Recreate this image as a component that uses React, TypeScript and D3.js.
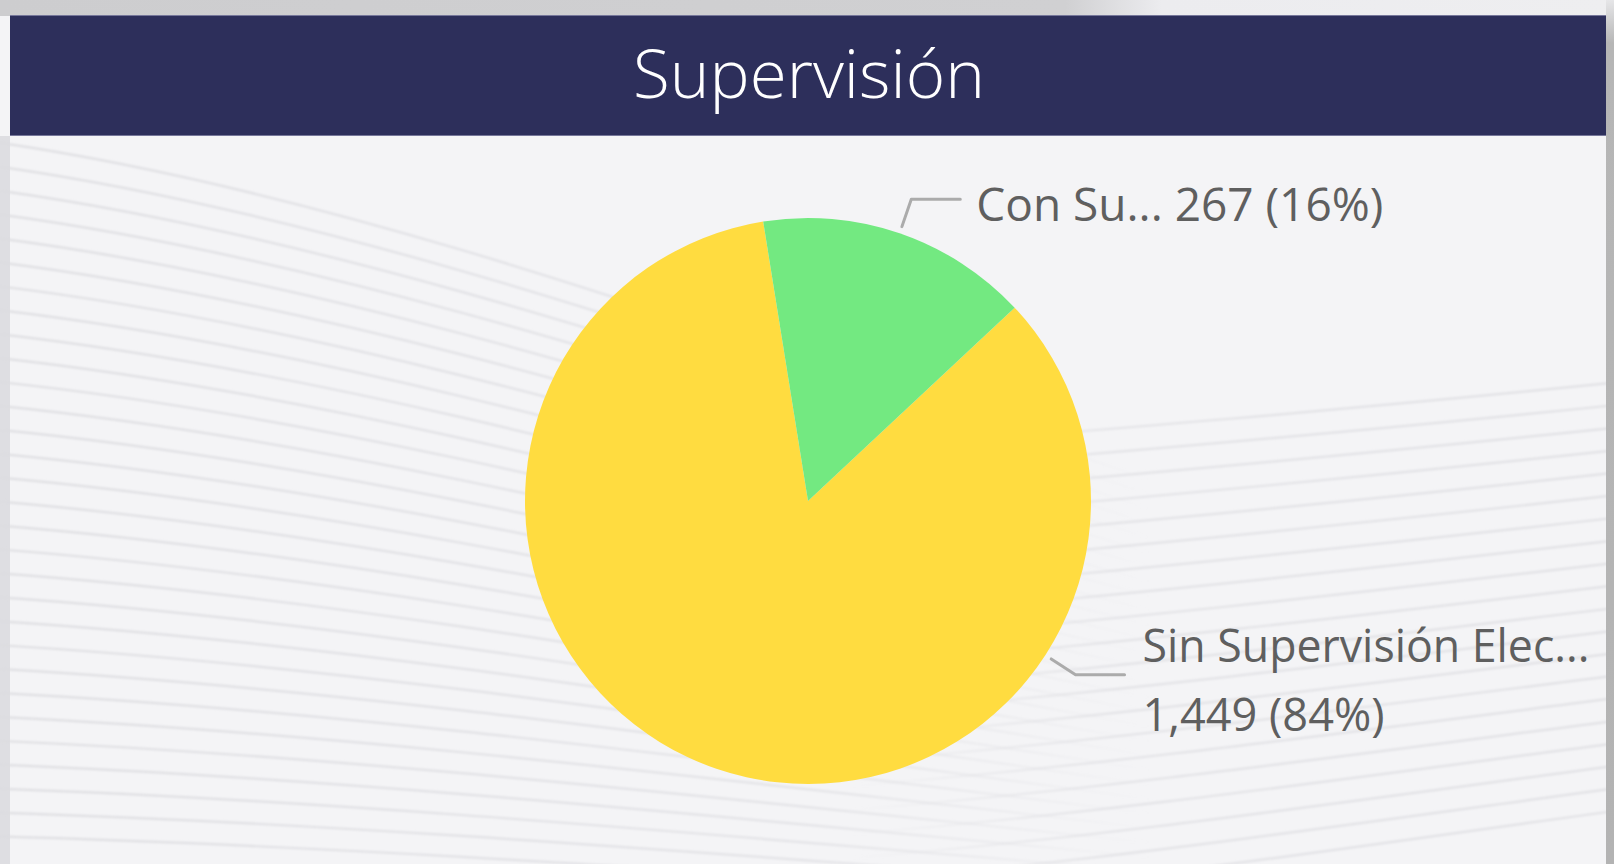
import React from "react";
import * as d3 from "d3";

const categories = ["Sin Supervisión Electrónica", "Con Supervisión Electrónica"];
const shortLabels = ["Sin Supervisión Elec...", "Con Su..."];
const values = [1449, 267];
const colors = ["#FFDC40", "#73E981"];

const W = 1614;
const H = 864;
const CX = 808;
const CY = 501;
const R = 283;
const START_DEG = 46.9;

const fmt = d3.format(",");

export default function App() {
  const total = d3.sum(values);
  const pie = d3
    .pie<number>()
    .sort(null)
    .value((d) => d)
    .startAngle((START_DEG * Math.PI) / 180)
    .endAngle(((START_DEG + 360) * Math.PI) / 180);
  const arcs = pie(values);
  const arc = d3.arc<d3.PieArcDatum<number>>().innerRadius(0).outerRadius(R);

  const pt = (a: number, r: number) => [CX + r * Math.sin(a), CY - r * Math.cos(a)];

  // label anchor angles (Sin slice anchor placed on right side, as in Power BI)
  const anchorAngles = arcs.map((a, i) =>
    i === 0 ? (123 * Math.PI) / 180 : (a.startAngle + a.endAngle) / 2
  );

  // decorative background wave lines (fan from the left, flat lines on the right)
  const fan: string[] = [];
  for (let i = 0; i < 30; i++) {
    const y0 = 140 + i * 24;
    const drop = 340 - 9.5 * i;
    fan.push(
      `M -20 ${y0} C 350 ${y0 + drop * 0.15}, 750 ${y0 + drop * 0.6}, 1150 ${y0 + drop}`
    );
  }
  const flat: string[] = [];
  for (let i = 0; i < 20; i++) {
    const y0 = 420 + i * 24;
    flat.push(`M 850 ${y0 + 30} C 1100 ${y0 + 10}, 1350 ${y0 - 10 - i}, 1640 ${y0 - 40 - i * 1.5}`);
  }

  const textColor = "#5f5f5f";
  const font = "'Open Sans', 'Noto Sans', sans-serif";

  return (
    <div style={{ position: "fixed", left: 0, top: 0, width: W, height: H, overflow: "hidden" }}>
      <svg width={W} height={H} viewBox={`0 0 ${W} ${H}`} style={{ display: "block" }}>
        <defs>
          <linearGradient id="topband" x1="0" x2="1" y1="0" y2="0">
            <stop offset="0" stopColor="#cdcdcf" />
            <stop offset="0.66" stopColor="#d0d0d2" />
            <stop offset="0.72" stopColor="#ececef" />
            <stop offset="1" stopColor="#eeeef0" />
          </linearGradient>
          <linearGradient id="rightband" x1="0" x2="0" y1="0" y2="1">
            <stop offset="0" stopColor="#e6e6e8" />
            <stop offset="0.05" stopColor="#b6b6b6" />
            <stop offset="1" stopColor="#b3b3b3" />
          </linearGradient>
          <linearGradient id="fanFade" gradientUnits="userSpaceOnUse" x1="0" y1="0" x2="1150" y2="0">
            <stop offset="0" stopColor="#dcdce0" stopOpacity={0.9} />
            <stop offset="0.7" stopColor="#dcdce0" stopOpacity={0.7} />
            <stop offset="1" stopColor="#dcdce0" stopOpacity={0} />
          </linearGradient>
          <linearGradient id="flatFade" gradientUnits="userSpaceOnUse" x1="850" y1="0" x2="1614" y2="0">
            <stop offset="0" stopColor="#dcdce0" stopOpacity={0} />
            <stop offset="0.35" stopColor="#dcdce0" stopOpacity={0.7} />
            <stop offset="1" stopColor="#dcdce0" stopOpacity={0.8} />
          </linearGradient>
          <filter id="soft" x="-5%" y="-5%" width="110%" height="110%">
            <feGaussianBlur stdDeviation="1" />
          </filter>
          <clipPath id="card">
            <rect x={0} y={136} width={1606} height={H - 136} />
          </clipPath>
        </defs>
        <rect x={0} y={0} width={W} height={H} fill="#f4f4f6" />
        <rect x={0} y={0} width={W} height={16} fill="url(#topband)" />
        <rect x={0} y={136} width={10} height={H - 136} fill="#dedee2" />
        <g clipPath="url(#card)" filter="url(#soft)">
          {fan.map((d, i) => (
            <path key={"f" + i} d={d} fill="none" stroke="url(#fanFade)" strokeWidth={2.2} />
          ))}
          {flat.map((d, i) => (
            <path key={"l" + i} d={d} fill="none" stroke="url(#flatFade)" strokeWidth={2.2} />
          ))}
        </g>
        <rect x={1606} y={0} width={8} height={H} fill="url(#rightband)" />
        {/* header */}
        <rect x={10} y={15} width={1596} height={121} fill="#2d2f5b" />
        <line x1={10} x2={1606} y1={15.5} y2={15.5} stroke="#76779a" strokeWidth={1} />
        <line x1={10} x2={1606} y1={135.5} y2={135.5} stroke="#76779a" strokeWidth={1} />
        <text
          x={809}
          y={98}
          textAnchor="middle"
          fill="#ffffff"
          fontFamily={font}
          fontWeight={300}
          fontSize={67}
          textLength={352}
          lengthAdjust="spacingAndGlyphs"
        >
          Supervisión
        </text>
        {/* pie */}
        <g>
          {arcs.map((a, i) => (
            <path
              key={categories[i]}
              d={arc(a) as string}
              transform={`translate(${CX},${CY})`}
              fill={colors[i]}
            />
          ))}
        </g>
        {/* leader lines and labels */}
        {arcs.map((a, i) => {
          const ang = anchorAngles[i];
          const p0 = pt(ang, R + 7);
          const p1 = pt(ang, R + 36);
          const p2 = [p1[0] + 49, p1[1]];
          const pct = Math.round((values[i] / total) * 100);
          const tx = p2[0] + (i === 0 ? 18 : 16);
          return (
            <g key={"lab" + i}>
              <polyline
                points={`${p0[0]},${p0[1]} ${p1[0]},${p1[1]} ${p2[0]},${p2[1]}`}
                fill="none"
                stroke="#ababab"
                strokeWidth={3}
                strokeLinecap="round"
                strokeLinejoin="round"
              />
              {i === 0 ? (
                <text fill={textColor} fontFamily={font} fontSize={46}>
                  <tspan x={tx} y={p1[1] - 13} textLength={447} lengthAdjust="spacingAndGlyphs">
                    {shortLabels[i]}
                  </tspan>
                  <tspan x={tx} y={p1[1] + 56} textLength={242} lengthAdjust="spacingAndGlyphs">
                    {`${fmt(values[i])} (${pct}%)`}
                  </tspan>
                </text>
              ) : (
                <text
                  x={tx}
                  y={p1[1] + 22}
                  fill={textColor}
                  fontFamily={font}
                  fontSize={46}
                  textLength={407}
                  lengthAdjust="spacingAndGlyphs"
                >
                  {`${shortLabels[i]} ${fmt(values[i])} (${pct}%)`}
                </text>
              )}
            </g>
          );
        })}
      </svg>
    </div>
  );
}
